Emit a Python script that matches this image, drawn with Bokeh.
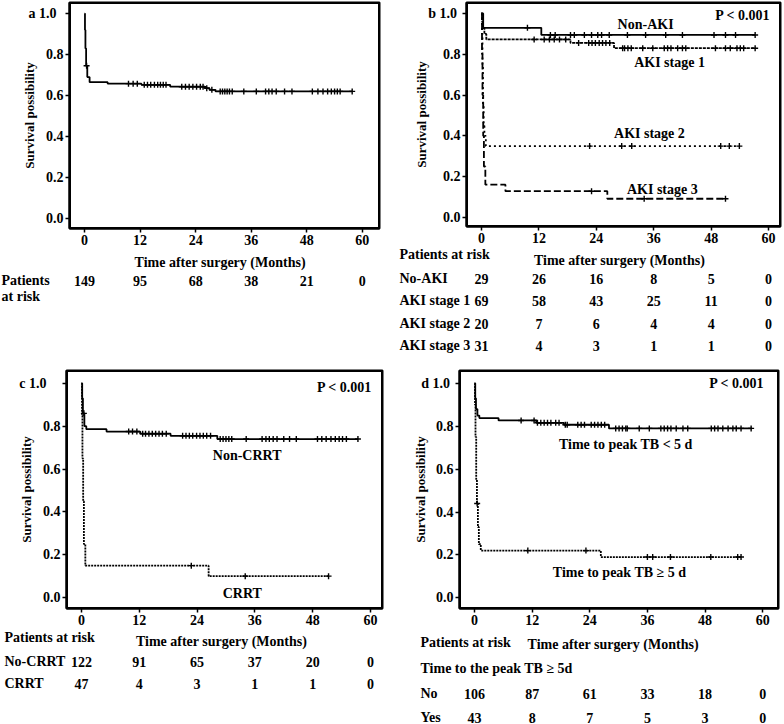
from bokeh.plotting import figure
from bokeh.models import Label, Range1d, FixedTicker, PrintfTickFormatter, BoxAnnotation
from bokeh.layouts import row, column
from bokeh.core.properties import value
from bokeh.embed import file_html
from bokeh.resources import INLINE

FONT = "Liberation Serif"

# ---------------- data ----------------
X_TICKS = [0, 12, 24, 36, 48, 60]
Y_TICKS = [0.0, 0.2, 0.4, 0.6, 0.8, 1.0]
X_TITLE = "Time after surgery (Months)"
Y_TITLE = "Survival possibility"

# panel a: overall
a_t = [0, 0.1, 0.2, 0.35, 0.6, 1.1, 5.0, 12.3, 18.5, 26.0, 27.0, 28.3, 57.8]
a_s = [1.0, 0.92, 0.83, 0.745, 0.69, 0.665, 0.658, 0.652, 0.643, 0.636, 0.628, 0.62, 0.62]
a_cens = [0.45, 9.5, 10.5, 11.4, 12.9, 13.6, 14.3, 15.1, 15.8, 16.4, 17.0, 17.6, 21.0, 21.8,
          22.6, 23.4, 24.2, 25.0, 25.6, 26.4, 27.5, 29.3, 29.8, 30.3, 30.8, 31.3, 31.9, 34.4,
          37.1, 39.1, 39.8, 40.5, 41.4, 43.2, 44.8, 49.2, 50.4, 51.5, 52.5, 53.3, 54.0, 54.6,
          55.2, 57.8]
a_risk = [149, 95, 68, 38, 21, 0]

# panel b: AKI stages
b_non_t = [0, 0.35, 12.5, 57.2]
b_non_s = [1.0, 0.93, 0.895, 0.895]
b_non_cens = [9.6, 14.4, 15.4, 18.6, 19.4, 21.5, 23.0, 24.3, 25.1, 26.7, 30.5, 34.3, 38.5,
              42.0, 48.6, 51.0, 53.1, 57.2]
b_s1_t = [0, 0.15, 0.3, 0.6, 1.0, 18.6, 27.7, 57.2]
b_s1_s = [1.0, 0.957, 0.928, 0.9, 0.873, 0.856, 0.83, 0.83]
b_s1_cens = [11.0, 13.1, 14.2, 15.2, 16.3, 17.6, 20.3, 22.4, 23.1, 23.8, 24.6, 25.3, 26.0,
             26.8, 29.5, 29.9, 30.6, 31.3, 33.7, 35.8, 38.2, 38.9, 39.6, 41.0, 42.0, 42.7,
             48.9, 51.0, 52.0, 53.4, 54.1, 54.8, 57.2]
b_s2_t = [0, 0.1, 0.2, 0.3, 0.45, 0.6, 0.9, 53.9]
b_s2_s = [1.0, 0.9, 0.75, 0.55, 0.45, 0.4, 0.35, 0.35]
b_s2_cens = [22.6, 29.3, 31.4, 50.0, 51.8, 53.9]
b_s3_t = [0, 0.1, 0.2, 0.35, 0.5, 0.8, 5.0, 26.3, 51.0]
b_s3_s = [1.0, 0.8, 0.6, 0.4, 0.25, 0.161, 0.129, 0.092, 0.092]
b_s3_cens = [23.0, 34.0, 51.0]
b_rows = ["No-AKI", "AKI stage 1", "AKI stage 2", "AKI stage 3"]
b_risk_non = [29, 26, 16, 8, 5, 0]
b_risk_s1 = [69, 58, 43, 25, 11, 0]
b_risk_s2 = [20, 7, 6, 4, 4, 0]
b_risk_s3 = [31, 4, 3, 1, 1, 0]

# panel c: CRRT
c_n_t = [0, 0.15, 0.3, 0.6, 1.0, 5.2, 12.2, 18.5, 28.2, 57.4]
c_n_s = [1.0, 0.93, 0.86, 0.80, 0.786, 0.775, 0.765, 0.755, 0.74, 0.74]
c_n_cens = [0.5, 9.8, 10.6, 11.5, 12.7, 13.3, 14.0, 14.7, 15.4, 16.1, 16.8, 17.6, 21.0, 21.7,
            22.4, 23.1, 23.9, 24.6, 25.3, 26.0, 26.8, 28.8, 29.4, 30.0, 30.6, 31.2, 34.2,
            37.5, 38.3, 39.0, 39.8, 40.6, 42.0, 43.2, 44.6, 49.0, 49.9, 50.8, 51.8, 52.7,
            53.5, 54.2, 55.0, 57.4]
c_c_t = [0, 0.1, 0.2, 0.35, 0.5, 0.8, 26.4, 51.3]
c_c_s = [1.0, 0.85, 0.65, 0.45, 0.25, 0.149, 0.10, 0.10]
c_c_cens = [22.8, 34.0, 51.3]
c_rows = ["No-CRRT", "CRRT"]
c_risk_n = [122, 91, 65, 37, 20, 0]
c_risk_c = [47, 4, 3, 1, 1, 0]

# panel d: time to peak TB
d_n_t = [0, 0.15, 0.3, 0.6, 1.0, 5.0, 12.9, 18.6, 28.0, 57.8]
d_n_s = [1.0, 0.93, 0.88, 0.85, 0.838, 0.827, 0.816, 0.807, 0.79, 0.79]
d_n_cens = [9.7, 12.4, 13.1, 13.8, 14.5, 15.2, 15.9, 16.9, 17.6, 18.9, 19.3, 21.5, 22.2, 22.9,
            24.3, 25.0, 25.7, 26.4, 27.1, 29.4, 30.1, 30.8, 31.5, 31.8, 34.3, 36.4, 38.8,
            39.5, 40.2, 40.9, 42.0, 43.4, 44.4, 49.3, 50.0, 50.7, 51.7, 52.8, 53.8, 54.5,
            55.5, 57.6]
d_y_t = [0, 0.1, 0.2, 0.35, 0.5, 0.7, 0.9, 1.3, 26.3, 55.5]
d_y_s = [1.0, 0.9, 0.75, 0.55, 0.44, 0.33, 0.25, 0.22, 0.19, 0.19]
d_y_cens = [0.55, 11.1, 23.2, 36.0, 37.1, 40.8, 49.2, 54.8, 55.5]
d_group = "Time to the peak TB \u2265 5d"
d_rows = ["No", "Yes"]
d_risk_n = [106, 87, 61, 33, 18, 0]
d_risk_y = [43, 8, 7, 5, 3, 0]

COL_W = 392


# ---------------- helpers ----------------
def surv_at(c, ts, ss):
    v = ss[0]
    for t, s in zip(ts, ss):
        if t <= c:
            v = s
    return v


def style_axis(ax):
    ax.axis_line_color = "black"
    ax.axis_line_width = 2
    ax.major_tick_line_color = "black"
    ax.major_tick_line_width = 1.5
    ax.major_tick_out = 4
    ax.major_tick_in = 0
    ax.minor_tick_out = 0
    ax.minor_tick_in = 0
    ax.major_label_text_font = FONT
    ax.major_label_text_font_style = "bold"
    ax.major_label_text_font_size = "14px"
    ax.major_label_text_color = "black"
    ax.major_label_standoff = 2
    ax.axis_label_text_font = FONT
    ax.axis_label_text_font_style = "bold"
    ax.axis_label_text_color = "black"


def km_fig(h, bl, br, bt, bb, xr, yr, letter, y_title_standoff):
    p = figure(width=COL_W, height=h, output_backend="svg", toolbar_location=None,
               x_range=Range1d(*xr), y_range=Range1d(*yr), frame_align=False,
               min_border_left=bl, min_border_right=br, min_border_top=bt,
               min_border_bottom=bb)
    p.xgrid.visible = False
    p.ygrid.visible = False
    p.outline_line_color = "black"
    p.outline_line_width = 2
    p.xaxis.ticker = FixedTicker(ticks=X_TICKS)
    p.yaxis.ticker = FixedTicker(ticks=Y_TICKS)
    p.yaxis.formatter = PrintfTickFormatter(format="%.1f")
    for ax in p.axis:
        style_axis(ax)
    p.yaxis.major_label_overrides = {1.0: letter + "1.0"}
    p.yaxis.axis_label = Y_TITLE
    p.yaxis.axis_label_text_font_size = "13px"
    p.yaxis.axis_label_standoff = y_title_standoff
    # plot box (defaults to the frame edges)
    p.add_layout(BoxAnnotation(fill_color=None, fill_alpha=0, line_color="black",
                               line_width=3, line_alpha=1))
    return p


def curve(p, ts, ss, cens, dash="solid", width=1.8):
    p.step(x=ts, y=ss, mode="after", line_color="black", line_width=width, line_dash=dash)
    cy = [surv_at(c, ts, ss) for c in cens]
    p.scatter(x=cens, y=cy, marker="cross", size=6, line_color="black", line_width=1.4)


def txt(p, x, y, text, size="14px", align="center"):
    p.add_layout(Label(x=x, y=y, text=text, text_font=FONT, text_font_style="bold",
                       text_font_size=size, text_color="black", text_align=align,
                       text_baseline="middle"))


class Table:
    """Risk table below a KM plot; months share the KM plot's horizontal scale."""

    def __init__(self, bl, br, xr, h):
        k = (COL_W - br - bl) / (xr[1] - xr[0])
        self.k = k
        self.xs = xr[0] - bl / k
        xe = xr[0] + (COL_W - bl) / k
        t = figure(width=COL_W, height=h, output_backend="svg", toolbar_location=None,
                   x_range=Range1d(self.xs, xe), y_range=Range1d(h, 0), frame_align=False,
                   x_axis_type=None, y_axis_type=None, min_border=0,
                   min_border_left=0, min_border_right=0, min_border_top=0,
                   min_border_bottom=0)
        t.outline_line_color = None
        t.xgrid.visible = False
        t.ygrid.visible = False
        self.p = t

    def to_x(self, pix):
        return self.xs + pix / self.k

    def text(self, xs, ys, texts, align):
        self.p.text(x=xs, y=ys, text=texts, text_font=value(FONT), text_font_style="bold",
                    text_font_size=value("14px"), text_color="black", text_align=align,
                    text_baseline="middle")

    def label(self, pix, y, s, align="left"):
        self.text([self.to_x(pix)], [y], [s], align)

    def values(self, y, vals):
        self.text(X_TICKS, [y] * len(vals), [str(v) for v in vals], "center")


# ---------------- panel a ----------------
A = dict(bl=69, br=13, xr=(-3.24, 63.7))
pa = km_fig(249, A["bl"], A["br"], 2, 21, A["xr"], (-0.049, 1.054), "a   ", -11)
curve(pa, a_t, a_s, a_cens)
ta = Table(A["bl"], A["br"], A["xr"], 119)
ta.label(219.7, 13, X_TITLE, "center")
ta.label(1, 31, "Patients")
ta.values(31, a_risk)
ta.label(1, 47, "at risk")

# ---------------- panel b ----------------
B = dict(bl=74, br=4, xr=(-3.14, 62.5))
pb = km_fig(246, B["bl"], B["br"], 2, 20, B["xr"], (-0.044, 1.054), "b  ", -4)
curve(pb, b_non_t, b_non_s, b_non_cens)
curve(pb, b_s1_t, b_s1_s, b_s1_cens, dash="3 1")
curve(pb, b_s2_t, b_s2_s, b_s2_cens, dash="2 3")
curve(pb, b_s3_t, b_s3_s, b_s3_cens, dash="7 3")
txt(pb, 54.6, 0.99, "P < 0.001")
txt(pb, 34.3, 0.946, "Non-AKI")
txt(pb, 39.3, 0.76, "AKI stage 1")
txt(pb, 35.1, 0.41, "AKI stage 2")
txt(pb, 37.8, 0.137, "AKI stage 3")
tb = Table(B["bl"], B["br"], B["xr"], 122)
tb.label(7, 8, "Patients at risk")
tb.label(227, 14, X_TITLE, "center")
for yy, name, vals in zip([32, 54, 77, 99], b_rows,
                          [b_risk_non, b_risk_s1, b_risk_s2, b_risk_s3]):
    tb.label(7, yy, name)
    tb.values(yy, vals)

# ---------------- panel c ----------------
C = dict(bl=66, br=10, xr=(-3.11, 62.5))
pc = km_fig(261, C["bl"], C["br"], 2, 21, C["xr"], (-0.051, 1.06), "c     ", -18)
curve(pc, c_n_t, c_n_s, c_n_cens)
curve(pc, c_c_t, c_c_s, c_c_cens, dash="2 1")
txt(pc, 54.6, 0.98, "P < 0.001")
txt(pc, 34.4, 0.665, "Non-CRRT")
txt(pc, 33.4, 0.02, "CRRT")
tc = Table(C["bl"], C["br"], C["xr"], 95)
tc.label(4, 8, "Patients at risk")
tc.label(221, 12, X_TITLE, "center")
for yy, name, vals in zip([32, 54], c_rows, [c_risk_n, c_risk_c]):
    tc.label(4, yy, name)
    tc.values(yy, vals)

# ---------------- panel d ----------------
D = dict(bl=67, br=6, xr=(-3.13, 63.3))
pd_ = km_fig(261, D["bl"], D["br"], 2, 21, D["xr"], (-0.05, 1.06), "d  ", -10)
curve(pd_, d_n_t, d_n_s, d_n_cens)
curve(pd_, d_y_t, d_y_s, d_y_cens, dash="2 1")
txt(pd_, 54.6, 1.0, "P < 0.001")
txt(pd_, 31.5, 0.715, "Time to peak TB < 5 d")
txt(pd_, 30.2, 0.117, "Time to peak TB \u2265 5 d")
td = Table(D["bl"], D["br"], D["xr"], 95)
td.label(28, 13, "Patients at risk")
td.label(220.7, 15, X_TITLE, "center")
td.label(28, 39, d_group)
for yy, name, vals in zip([64, 88], d_rows, [d_risk_n, d_risk_y]):
    td.label(28, yy, name)
    td.values(yy, vals)

layout = row(column(pa, ta.p, pc, tc.p, spacing=0),
             column(pb, tb.p, pd_, td.p, spacing=0), spacing=0)
open("out.html", "w").write(file_html(layout, INLINE))
